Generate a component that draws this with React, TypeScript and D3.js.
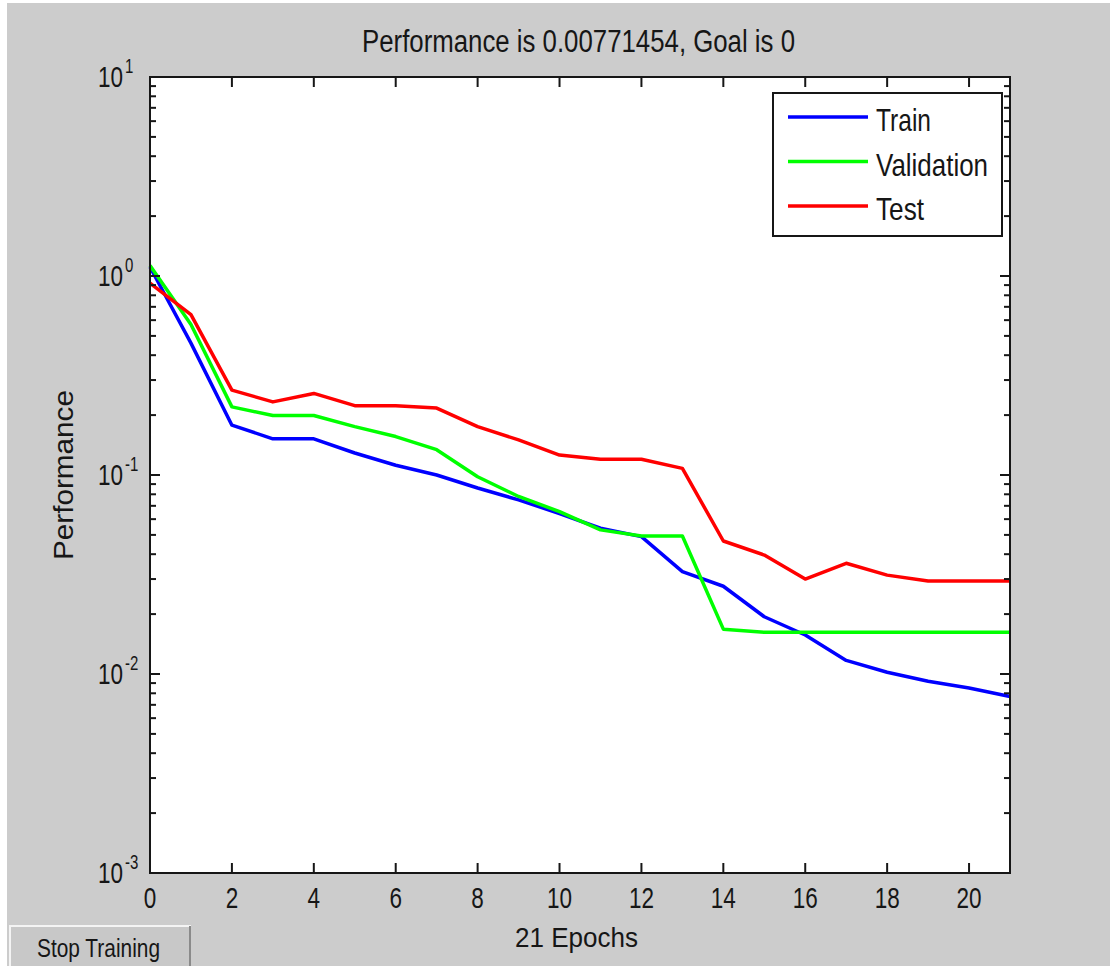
import React from 'react'
import * as d3 from 'd3'

// performance per epoch (mse)
const epochs = d3.range(0, 22)
const train = [1.11, 0.46, 0.178, 0.152, 0.152, 0.129, 0.112, 0.1, 0.086, 0.075, 0.064, 0.054, 0.049, 0.0327, 0.0276, 0.0194, 0.0157, 0.0117, 0.0102, 0.0092, 0.0085, 0.00771]
const validation = [1.13, 0.57, 0.22, 0.199, 0.199, 0.175, 0.156, 0.134, 0.098, 0.078, 0.0655, 0.053, 0.0494, 0.0494, 0.0168, 0.0162, 0.0162, 0.0162, 0.0162, 0.0162, 0.0162, 0.0162]
const test = [0.92, 0.64, 0.267, 0.233, 0.257, 0.223, 0.223, 0.217, 0.175, 0.15, 0.126, 0.12, 0.12, 0.108, 0.0466, 0.0396, 0.03, 0.036, 0.0314, 0.0293, 0.0293, 0.0293]

const seriesNames = ['Train', 'Validation', 'Test']
const seriesColors = ['#0000ff', '#00ff00', '#ff0000']
const xTicks = [0, 2, 4, 6, 8, 10, 12, 14, 16, 18, 20]
const yDecades = [1, 0, -1, -2, -3]

const W = 1110
const H = 966
const FONT = '"Liberation Sans", Arial, Helvetica, sans-serif'
const INK = '#161616'

export default function App() {
  const left = 150, right = 1010, top = 77, bottom = 873

  const x = d3.scaleLinear().domain([0, 21]).range([left, right])
  const y = d3.scaleLog().domain([1e-3, 1e1]).range([bottom, top])

  const line = d3.line<number>()
    .x((d, i) => x(epochs[i]))
    .y(d => y(d))

  const allSeries = [train, validation, test]

  // minor log ticks 2..9 in every decade
  const minor: number[] = []
  for (let e = -3; e < 1; e++) {
    for (let m = 2; m <= 9; m++) minor.push(m * Math.pow(10, e))
  }

  const sx = 0.75

  return (
    <svg width={W} height={H} style={{ position: 'absolute', left: 0, top: 0, display: 'block' }}
      fontFamily={FONT}>
      <rect x={0} y={0} width={W} height={H} fill="#ffffff" />
      <rect x={7} y={3} width={W - 7} height={H - 3} fill="#cccccc" />

      {/* title */}
      <text x={362} y={52} fontSize={31} fill={INK} textLength={433} lengthAdjust="spacingAndGlyphs">
        Performance is 0.00771454, Goal is 0
      </text>

      {/* plot area */}
      <rect x={left} y={top} width={right - left} height={bottom - top} fill="#ffffff" />

      {/* lines */}
      {allSeries.map((s, k) => (
        <path key={seriesNames[k]} d={line(s) || ''} fill="none" stroke={seriesColors[k]}
          strokeWidth={3.5} strokeLinejoin="round" />
      ))}

      {/* x ticks, bottom and top */}
      {xTicks.map(t => (
        <g key={'xt' + t}>
          <line x1={x(t)} x2={x(t)} y1={bottom} y2={bottom - 10} stroke={INK} strokeWidth={2} />
          <line x1={x(t)} x2={x(t)} y1={top} y2={top + 10} stroke={INK} strokeWidth={2} />
          <text transform={`translate(${x(t)},908) scale(${sx},1)`} textAnchor="middle"
            fontSize={30} fill={INK}>{t}</text>
        </g>
      ))}

      {/* y ticks, left and right */}
      {yDecades.map(e => {
        const yy = y(Math.pow(10, e))
        return (
          <g key={'yt' + e}>
            <line x1={left} x2={left + 10} y1={yy} y2={yy} stroke={INK} strokeWidth={2} />
            <line x1={right} x2={right - 10} y1={yy} y2={yy} stroke={INK} strokeWidth={2} />
            <text transform={`translate(123,${yy + 10}) scale(${sx},1)`} textAnchor="end"
              fontSize={30} fill={INK}>10</text>
            <text transform={`translate(125,${yy - 4}) scale(${sx},1)`} textAnchor="start"
              fontSize={20} fill={INK}>{e}</text>
          </g>
        )
      })}
      {minor.map((v, i) => (
        <g key={'ym' + i}>
          <line x1={left} x2={left + 6} y1={y(v)} y2={y(v)} stroke={INK} strokeWidth={2} />
          <line x1={right} x2={right - 6} y1={y(v)} y2={y(v)} stroke={INK} strokeWidth={2} />
        </g>
      ))}

      {/* axes box */}
      <rect x={left} y={top} width={right - left} height={bottom - top} fill="none" stroke={INK} strokeWidth={2} />

      {/* axis labels */}
      <text x={515} y={947} fontSize={28} fill={INK} textLength={123} lengthAdjust="spacingAndGlyphs">
        21 Epochs
      </text>
      <text transform="translate(73,560) rotate(-90)" fontSize={27} fill={INK}
        textLength={170} lengthAdjust="spacingAndGlyphs">Performance</text>

      {/* legend */}
      <rect x={773} y={93} width={229} height={143} fill="#ffffff" stroke={INK} strokeWidth={2} />
      {seriesNames.map((n, k) => {
        const ly = 117 + k * 44.5
        const widths = [55, 112, 48]
        return (
          <g key={'lg' + n}>
            <line x1={788} x2={868} y1={ly} y2={ly} stroke={seriesColors[k]} strokeWidth={3.5} />
            <text x={876} y={ly + 14} fontSize={32} fill={INK} textLength={widths[k]}
              lengthAdjust="spacingAndGlyphs">{n}</text>
          </g>
        )
      })}

      {/* stop button */}
      <rect x={10} y={926} width={180} height={50} fill="#c8c8c8" stroke="#f4f4f4" strokeWidth={2} />
      <line x1={190} x2={190} y1={926} y2={966} stroke="#8a8a8a" strokeWidth={2} />
      <text x={37} y={957} fontSize={26} fill={INK} textLength={123} lengthAdjust="spacingAndGlyphs">
        Stop Training
      </text>
    </svg>
  )
}
